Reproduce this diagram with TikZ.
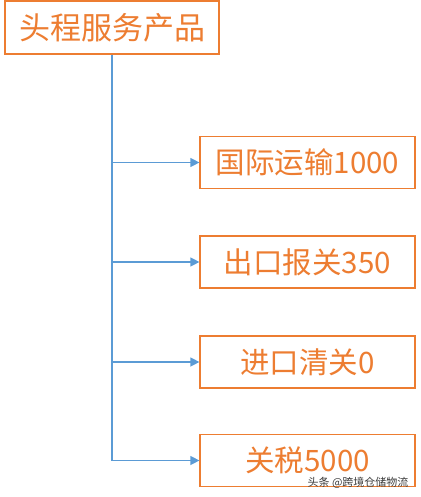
\documentclass[tikz,border=0pt]{standalone}
\usepackage{fontspec}
\usepackage{xcolor}
\usepackage{tikz}
\usetikzlibrary{arrows.meta, positioning, calc}
\newfontfamily\cjk{Noto Sans CJK SC}
\definecolor{BoxOrange}{RGB}{237, 125, 49}
\definecolor{LineBlue}{RGB}{91, 155, 213}
\definecolor{MarkGray}{RGB}{60, 60, 60}

\tikzset{
  headbox/.style={draw=BoxOrange, fill=white, line width=1.2pt, text=BoxOrange,
    minimum width=214pt, minimum height=53pt, inner sep=0pt,
    font=\cjk\fontsize{31}{34}\selectfont},
  itembox/.style={draw=BoxOrange, fill=white, line width=1.2pt, text=BoxOrange,
    minimum width=215pt, minimum height=52pt, inner sep=0pt,
    font=\cjk\fontsize{29.5}{32}\selectfont},
  branch/.style={draw=LineBlue, line width=1.3pt, -{Triangle[length=9pt,width=9pt]}}
}

\begin{document}
\begin{tikzpicture}[x=1pt, y=-1pt]
      \useasboundingbox (0,0) rectangle (420,497);
      \node[headbox] (head) at (112,27.5) {头程服务产品};
      \node[itembox] (intl) at (307.5,162.5) {国际运输1000};
      \node[itembox] (export) at (307.5,262) {出口报关350};
      \node[itembox] (import) at (307.5,362) {进口清关0};
      \node[itembox] (tax) at (307.5,460.5) {关税5000};
      \coordinate (trunkend) at (head.south |- tax.west);
      \draw[LineBlue, line width=1.3pt] (head.south) -- (trunkend);
      \foreach \item in {intl, export, import, tax}
        \draw[branch] (head.south |- \item.west) -- (\item.west);
      % watermark
      \node[text=MarkGray, font=\cjk\fontsize{11}{12}\selectfont, anchor=east] (mark) at (412,483) {头条 @跨境仓储物流};
    \end{tikzpicture}
\end{document}
